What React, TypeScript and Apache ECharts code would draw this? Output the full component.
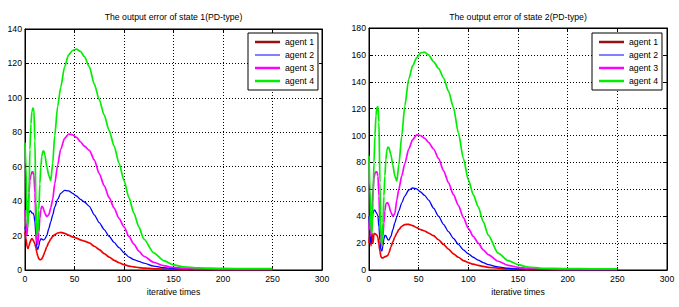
import React, { useEffect, useRef } from "react";
import * as echarts from "echarts";

const FONT = '"Liberation Sans", Arial, Helvetica, sans-serif';

// iteration samples shared by all curves
const iterations = [0,1,2,3,4,5,6,7,8,9,10,11,12,13,14,15,16,17,18,19,20,22,24,26,28,30,33,36,40,44,48,52,56,60,65,70,75,80,85,90,95,100,105,110,115,120,130,140,150,160,175,200,225,250];

// state 1
const s1Agent1 = [22,18,14,12.5,14,16,17.5,18.2,17.5,16.5,15,13,10,8,6.5,6,6,6.5,7.5,9,10.5,13.5,16,18,19.5,20.5,21.5,21.8,21.3,20.3,19.3,18.5,17.5,16.8,15.8,13.8,11.8,9.5,7.5,5.6,4.2,3.1,2.3,1.8,1.4,1.1,0.7,0.5,0.3,0.2,0.1,0.1,0.1,0.1];
const s1Agent2 = [25,22,24,30,33,34.5,34,33,33,32,28,20,13,12,14,17,18,18,17.5,17.5,18,20,24,28,32,36.5,41,44.5,46.3,46,44.5,43,41,39.5,37,32,27.5,23.5,19.5,16,13,10,7.5,6,5,4,2.3,1.3,0.8,0.5,0.3,0.2,0.2,0.2];
const s1Agent3 = [35,25,20,30,45,52,55,57,57,55,45,28,16,15,22,30,35,37,36.5,35,33,31,32,36,41,50,61,70,76.5,79,78.5,77,74.5,72,69.5,64,56,49,42,36,30,25,19.5,15,11,8,4.5,2.5,1.5,1,0.6,0.4,0.3,0.3];
const s1Agent4 = [74,60,30,25,45,70,85,92,94,93,75,40,20,22,35,50,60,66,69,69,67,60,55,52,62,78,95,106,118,125,127.5,128.3,127,124,118,108,99,90,81,72,62,52,42,33,25,18,10,5.5,3,1.8,1.2,0.9,0.8,0.8];

// state 2
const s2Agent1 = [20,28,18,27,20,27,27,26.5,26,24,19,14,10,9,9,9.5,10,10,10.5,11,12.5,17,21,24.5,27.5,30,32.5,33.8,34,33,31.5,30,29,27.5,25.5,22.5,19,15.5,12,9.5,7,5.5,4.3,3.5,2.7,2,1.3,0.8,0.5,0.3,0.2,0.1,0.1,0.1];
const s2Agent2 = [40,25,20,35,42,44.5,44.5,43,42,40,32,22,15,14,18,23,26,25.5,24,22.5,22.3,25,30,35,39.5,44,50,55,59.5,61,60.3,58,55.5,52,46,40,34,28.5,23.5,19,15,12,9.5,7.3,5.5,4,2.3,1.3,0.8,0.5,0.3,0.2,0.2,0.2];
const s2Agent3 = [30,40,25,45,60,68,72,73,73,70,55,35,22,18,25,35,44,49,50,50,48,43,40,42,52,60,70,79,90,97,100.5,100,98,95,90,83,74,65,56,48,39,31,25,20,15,11.5,6.5,3.5,2,1.2,0.8,0.5,0.4,0.4];
const s2Agent4 = [85,60,30,27,50,80,100,115,121,121.6,110,65,25,18,35,55,70,82,89,91.5,91,86,78,70,66,78,100,122,142,152,158,161.5,162,160,155,150,143,133,121,102,83,67,56,47,36,26,12.5,7,4,2.2,1.3,1,0.9,0.9];

const agentNames = ["agent 1", "agent 2", "agent 3", "agent 4"];
const lineColors = ["#f00000", "#0000ff", "#ff00ff", "#00ee00"];
const legendColors = ["#9a1010", "#0000ff", "#ff00ff", "#00ee00"];
const titles = ["The output error of state 1(PD-type)", "The output error of state 2(PD-type)"];
const yMaxes = [140, 180];
const xLabel = "iterative times";

const state1 = [s1Agent1, s1Agent2, s1Agent3, s1Agent4];
const state2 = [s2Agent1, s2Agent2, s2Agent3, s2Agent4];

function pairs(ys: number[]) {
  return iterations.map((x, i) => [x, ys[i]]);
}

const grids = [
  { left: 25, top: 29, width: 297, height: 241 },
  { left: 369, top: 28, width: 298, height: 242 },
];

const labelStyle = { color: "#000", fontSize: 8.7, fontFamily: FONT };

function xAxesFor(g: number) {
  return [
    {
      gridIndex: g, type: "value", min: 0, max: 300, interval: 50, position: "bottom",
      axisLine: { show: true, onZero: false, lineStyle: { color: "#000", width: 1 } },
      axisTick: { show: true, inside: true, length: 3, lineStyle: { color: "#000" } },
      axisLabel: { ...labelStyle, margin: 4 },
      splitLine: { show: true, lineStyle: { color: "#000", width: 1, type: [1, 2] } },
      name: xLabel, nameLocation: "middle", nameGap: 15,
      nameTextStyle: { ...labelStyle },
    },
    {
      gridIndex: g, type: "value", min: 0, max: 300, interval: 50, position: "top",
      axisLine: { show: true, onZero: false, lineStyle: { color: "#000", width: 1 } },
      axisTick: { show: true, inside: true, length: 3, lineStyle: { color: "#000" } },
      axisLabel: { show: false },
      splitLine: { show: false },
    },
  ];
}

function yAxesFor(g: number) {
  const yMax = yMaxes[g];
  return [
    {
      gridIndex: g, type: "value", min: 0, max: yMax, interval: 20, position: "left",
      axisLine: { show: true, onZero: false, lineStyle: { color: "#000", width: 1 } },
      axisTick: { show: true, inside: true, length: 3, lineStyle: { color: "#000" } },
      axisLabel: { ...labelStyle, margin: 3 },
      splitLine: { show: true, lineStyle: { color: "#000", width: 1, type: [1, 2] } },
    },
    {
      gridIndex: g, type: "value", min: 0, max: yMax, interval: 20, position: "right",
      axisLine: { show: true, onZero: false, lineStyle: { color: "#000", width: 1 } },
      axisTick: { show: true, inside: true, length: 3, lineStyle: { color: "#000" } },
      axisLabel: { show: false },
      splitLine: { show: false },
    },
  ];
}

function seriesFor(g: number, data: number[][]) {
  return data.map((ys, i) => ({
    name: agentNames[i],
    type: "line",
    xAxisIndex: g * 2,
    yAxisIndex: g * 2,
    data: pairs(ys),
    showSymbol: false,
    smooth: 0.25,
    smoothMonotone: "x",
    lineStyle: { color: lineColors[i], width: i === 1 ? 1.3 : 1.7 },
    itemStyle: { color: lineColors[i] },
  }));
}

function legendFor(left: number) {
  return {
    orient: "vertical",
    left, top: 33,
    padding: [4, 4, 4, 7],
    itemWidth: 25, itemHeight: 2.5, itemGap: 3,
    borderColor: "#000", borderWidth: 1, backgroundColor: "#fff",
    selectedMode: false,
    textStyle: { ...labelStyle, lineHeight: 10 },
    data: agentNames.map((n, i) => ({
      name: n,
      icon: i === 1 ? "path://M0,0H25V1H0Z" : "rect",
      itemStyle: { color: legendColors[i] },
    })),
  };
}

export default function App() {
  const ref = useRef<HTMLDivElement>(null);
  useEffect(() => {
    if (!ref.current) return;
    const chart = echarts.init(ref.current, undefined, { renderer: "svg" });
    chart.setOption({
      animation: false,
      backgroundColor: "#fff",
      textStyle: { fontFamily: FONT },
      title: [
        { text: titles[0], left: 173.5, top: 12, padding: 0, textAlign: "center", textStyle: { ...labelStyle, fontWeight: "normal" } },
        { text: titles[1], left: 518, top: 12, padding: 0, textAlign: "center", textStyle: { ...labelStyle, fontWeight: "normal" } },
      ],
      grid: grids.map((g) => ({ ...g, show: true, borderColor: "#000", borderWidth: 1, backgroundColor: "#fff" })),
      xAxis: [...xAxesFor(0), ...xAxesFor(1)],
      yAxis: [...yAxesFor(0), ...yAxesFor(1)],
      legend: [legendFor(248), legendFor(592)],
      series: [...seriesFor(0, state1), ...seriesFor(1, state2)],
    });
    return () => chart.dispose();
  }, []);
  return <div ref={ref} style={{ position: "fixed", left: 0, top: 0, width: 679, height: 307, background: "#fff" }} />;
}
